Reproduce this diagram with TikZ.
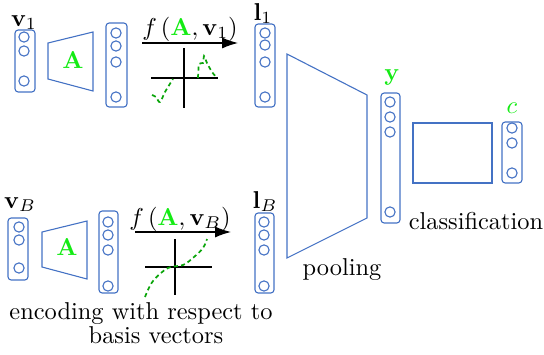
\documentclass[tikz,border=0pt]{standalone}
\usepackage{amsmath,amssymb,bm}
\usepackage{xcolor}
\usepackage{tikz}
\usetikzlibrary{arrows.meta,positioning}
\definecolor{netblue}{RGB}{68,114,196}
\definecolor{brightgreen}{RGB}{20,235,20}
\definecolor{curvegreen}{RGB}{10,165,10}
\newcommand{\pxl}{0.41pt}

\begin{document}
\begin{tikzpicture}[x=0.41pt,y=-0.41pt,every node/.style={font=\normalsize},
vec/.style={rounded corners=1.3pt,draw=netblue,line width=0.45pt,inner sep=0pt},
unit/.style={circle,draw=netblue,line width=0.45pt,minimum size=4.2pt,inner sep=0pt},
trap/.style={draw=netblue,line width=0.45pt},
axis/.style={line width=0.8pt},
act/.style={curvegreen,line width=0.7pt,dash pattern=on 1.7pt off 1.3pt},
arr/.style={-{Latex[length=6.5pt,width=4.5pt]},line width=0.5pt}]
\useasboundingbox (0,0) rectangle (544,354);
% top branch
\node[vec,minimum width=20*\pxl,minimum height=62*\pxl] (v1) at (25,61) {};
\foreach \cy [count=\i] in {37,51,81} \node[unit] (v1u\i) at (24,\cy) {};
\node[anchor=base] (v1lab) at (24,26) {$\mathbf{v}_1$};
\draw[trap] (48,43) -- (93,32) -- (93,91) -- (48,79) -- cycle;
\node[anchor=base,text=brightgreen] (A1) at (73,68) {$\mathbf{A}$};
\node[vec,minimum width=21*\pxl,minimum height=84*\pxl] (e1) at (116.5,65) {};
\foreach \cy [count=\i] in {33,46,62,97} \node[unit] (e1u\i) at (116,\cy) {};
\coordinate (f1s) at (142,43);
\coordinate (f1e) at (238,43);
\draw[arr] (f1s) -- (f1e);
\node[anchor=base] (f1lab) at (190,35) {$f\left(\textcolor{brightgreen}{\mathbf{A}},\mathbf{v}_1\right)$};
\draw[axis] (184,48) -- (184,108);
\draw[axis] (151,78) -- (218,78);
\draw[act] plot[smooth,tension=0.6] coordinates {(152,95) (156,97) (160,102) (165,92) (173,79)};
\draw[act] plot[smooth,tension=0.4] coordinates {(198,78) (199,64) (203,63) (204,56) (207,63) (212,72) (217,78)};
\node[vec,minimum width=20*\pxl,minimum height=83*\pxl] (l1) at (265,65.5) {};
\foreach \cy [count=\i] in {33,45,62,97} \node[unit] (l1u\i) at (265,\cy) {};
\node[anchor=base] (l1lab) at (263,20) {$\mathbf{l}_1$};
% bottom branch
\node[vec,minimum width=20*\pxl,minimum height=62*\pxl] (vB) at (18,249) {};
\foreach \cy [count=\i] in {227,240,268} \node[unit] (vBu\i) at (19,\cy) {};
\node[anchor=base] (vBlab) at (20,208) {$\mathbf{v}_B$};
\draw[trap] (42,232) -- (87,221) -- (87,279) -- (42,267) -- cycle;
\node[anchor=base,text=brightgreen] (AB) at (67,255) {$\mathbf{A}$};
\node[vec,minimum width=19*\pxl,minimum height=82*\pxl] (eB) at (108.5,252) {};
\foreach \cy [count=\i] in {222,235,250,286} \node[unit] (eBu\i) at (108,\cy) {};
\coordinate (fBs) at (135,232);
\coordinate (fBe) at (231,232);
\draw[arr] (fBs) -- (fBe);
\node[anchor=base] (fBlab) at (180,225) {$f\left(\textcolor{brightgreen}{\mathbf{A}},\mathbf{v}_B\right)$};
\draw[axis] (175,239) -- (175,295);
\draw[axis] (145,267) -- (212,267);
\draw[act] plot[smooth,tension=0.6] coordinates {(145,297) (153,281) (168,268) (183,265) (194,257) (203,248) (207,239)};
\node[vec,minimum width=19*\pxl,minimum height=80*\pxl] (lB) at (264.5,253) {};
\foreach \cy [count=\i] in {222,235,250,286} \node[unit] (lBu\i) at (264,\cy) {};
\node[anchor=base] (lBlab) at (265,208) {$\mathbf{l}_B$};
% pooling and classification
\draw[trap] (287,54) -- (367,95) -- (367,218) -- (287,258) -- cycle;
\node[anchor=base] (poollab) at (342,275) {pooling};
\node[vec,minimum width=19*\pxl,minimum height=130*\pxl] (y) at (390.5,158) {};
\foreach \cy [count=\i] in {102,117,132,212} \node[unit] (yu\i) at (390,\cy) {};
\node[anchor=base,text=brightgreen] (ylab) at (392,80) {$\mathbf{y}$};
\node[draw=netblue,line width=0.45pt,inner sep=0pt,minimum width=79*\pxl,minimum height=60*\pxl] (cls) at (452.5,153) {};
\node[vec,minimum width=20*\pxl,minimum height=61*\pxl] (c) at (512,152.5) {};
\foreach \cy [count=\i] in {128,143,173} \node[unit] (cu\i) at (512,\cy) {};
\node[anchor=base,text=brightgreen] (clab) at (512,113) {$c$};
\node[anchor=base] (clslab) at (476,229) {classification};
\node[anchor=base] (enc1) at (141,319) {encoding with respect to};
\node[anchor=base] (enc2) at (156,343) {basis vectors};
\end{tikzpicture}
\end{document}
